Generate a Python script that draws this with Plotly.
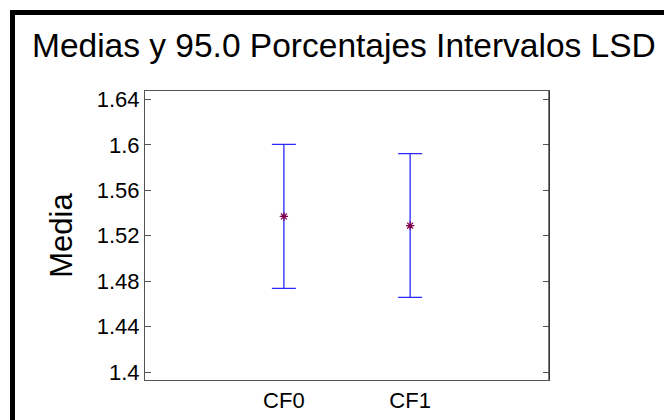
import plotly.graph_objects as go

# Group labels and LSD interval data
categorias = ["CF0", "CF1"]
medias = [1.537, 1.529]
semi_intervalo = [0.0633, 0.0632]
y_ticks = [1.40, 1.44, 1.48, 1.52, 1.56, 1.60, 1.64]

W, H = 664, 420
L, R, T, B = 145, 115, 91, 40
plot_w = W - L - R
plot_h = H - T - B


def px_x(px):
    return (px - L) / plot_w


def px_y(py):
    return (H - B - py) / plot_h


fig = go.Figure()

fig.add_trace(go.Scatter(
    x=categorias,
    y=medias,
    mode="markers",
    marker=dict(symbol="asterisk-open", size=7, color="#80004a",
                line=dict(color="#80004a", width=1.2)),
    error_y=dict(type="data", array=semi_intervalo, symmetric=True,
                 color="#2a2aff", thickness=1.3, width=12),
    showlegend=False,
    hoverinfo="skip",
))

# Outer frame on top and left edges
fig.add_shape(type="rect", xref="paper", yref="paper",
              x0=px_x(12.5), x1=px_x(720), y0=px_y(470), y1=px_y(12.5),
              line=dict(color="black", width=5), fillcolor="rgba(0,0,0,0)",
              layer="above")

# Darker right edge of the plot box
fig.add_shape(type="line", xref="paper", yref="paper",
              x0=1, x1=1, y0=0, y1=1,
              line=dict(color="#222", width=1.2), layer="above")

fig.update_layout(
    width=W, height=H,
    margin=dict(l=L, r=R, t=T, b=B, pad=0, autoexpand=False),
    paper_bgcolor="white",
    plot_bgcolor="white",
    font=dict(family="Liberation Sans, Arial, sans-serif", color="black"),
    title=dict(
        text="Medias y 95.0 Porcentajes Intervalos LSD",
        x=32 / W, xanchor="left", xref="container",
        y=1 - 45 / H, yanchor="middle", yref="container",
        font=dict(size=33.5, color="black"),
    ),
)

fig.update_xaxes(
    type="category",
    range=[-1.1, 2.1],
    automargin=False,
    showgrid=False, zeroline=False,
    showline=True, linecolor="#555", linewidth=1.2, mirror=True,
    ticks="", tickfont=dict(size=22, color="black"),
)

fig.update_yaxes(
    range=[1.3932, 1.6473],
    automargin=False,
    tickvals=y_ticks,
    ticktext=[f"{v:g}" for v in y_ticks],
    showgrid=False, zeroline=False,
    showline=True, linecolor="#555", linewidth=1.2, mirror="ticks",
    ticks="inside", ticklen=6, tickcolor="#555",
    tickfont=dict(size=22, color="black"),
    title=dict(text="Media", font=dict(size=31, color="black"), standoff=14),
)

fig.write_html("out.html")
